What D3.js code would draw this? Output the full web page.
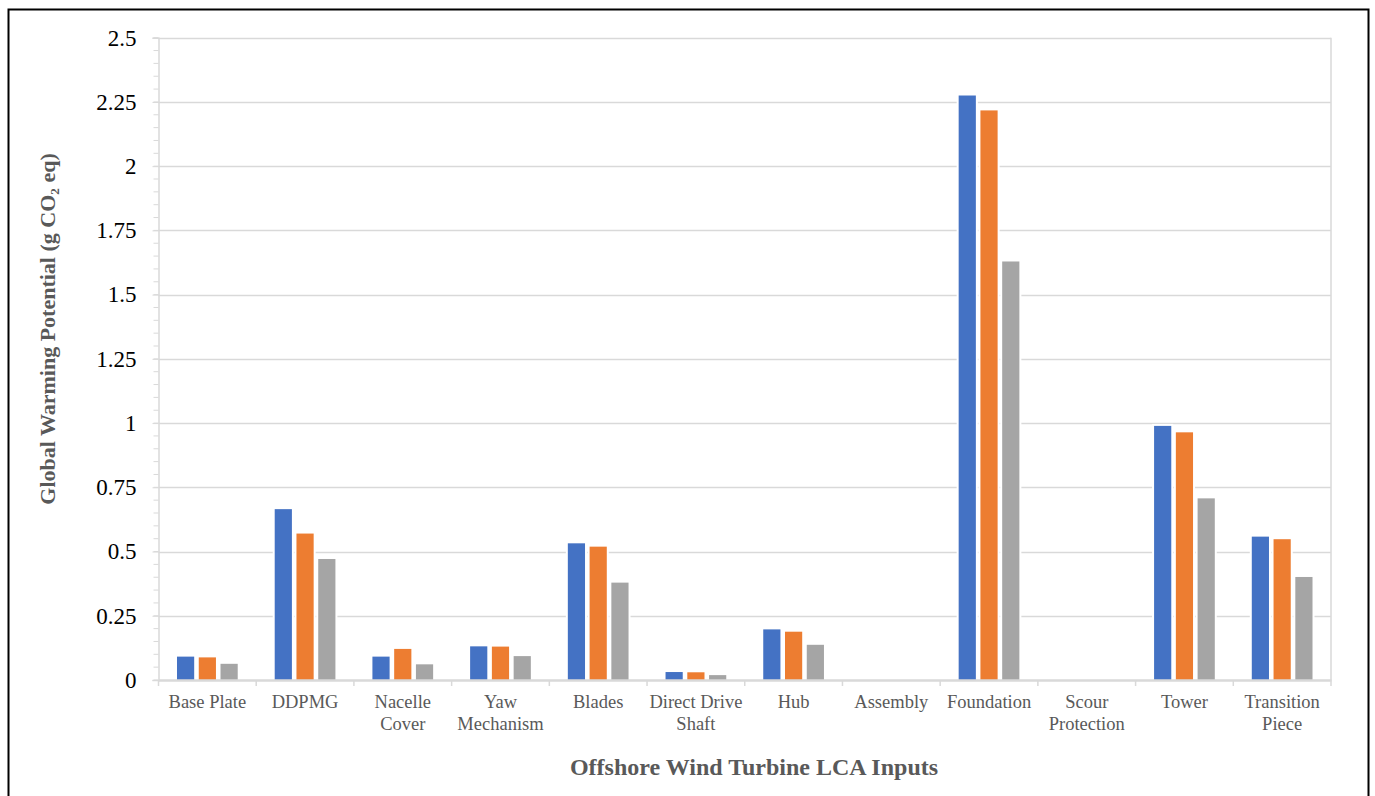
<!DOCTYPE html>
<html>
<head>
<meta charset="utf-8">
<script src="https://cdn.jsdelivr.net/npm/d3@7"></script>
<style>
  html, body { margin: 0; padding: 0; background: #fff; }
  svg { display: block; }
  text { font-family: "Liberation Serif", "Times New Roman", serif; }
</style>
</head>
<body>
<svg id="chart" width="1375" height="796"></svg>
<script>
// Offshore wind turbine LCA inputs — global warming potential per component
const categories = ["Base Plate", "DDPMG", "Nacelle Cover", "Yaw Mechanism", "Blades",
  "Direct Drive Shaft", "Hub", "Assembly", "Foundation", "Scour Protection", "Tower", "Transition Piece"];
const seriesNames = ["Series 1", "Series 2", "Series 3"];
const series1 = [0.091, 0.665, 0.091, 0.131, 0.532, 0.031, 0.197, 0, 2.275, 0, 0.989, 0.558];
const series2 = [0.088, 0.570, 0.121, 0.130, 0.519, 0.030, 0.188, 0, 2.217, 0, 0.964, 0.548];
const series3 = [0.063, 0.471, 0.061, 0.093, 0.379, 0.019, 0.137, 0, 1.629, 0, 0.707, 0.401];
const yTicks = [0, 0.25, 0.5, 0.75, 1, 1.25, 1.5, 1.75, 2, 2.25, 2.5];
const colors = ["#4472C4", "#ED7D31", "#A5A5A5"];

const seriesValues = [series1, series2, series3];
const svg = d3.select("#chart");

// outer chart frame
svg.append("rect")
  .attr("x", 8.5).attr("y", 9.5)
  .attr("width", 1360).attr("height", 820)
  .attr("fill", "none").attr("stroke", "#000").attr("stroke-width", 2);

const plot = { left: 158.5, right: 1331, top: 37.7, bottom: 680 };

const x0 = d3.scaleBand().domain(categories).range([plot.left, plot.right]).padding(0);
const x1 = d3.scaleBand().domain(seriesNames).range([0, x0.bandwidth()])
  .paddingInner(0.21).paddingOuter(0.85);
const y = d3.scaleLinear().domain([0, 2.5]).range([plot.bottom, plot.top]);

const grid = "#d9d9d9";

// horizontal gridlines
svg.append("g").selectAll("line").data(yTicks.filter(d => d > 0)).join("line")
  .attr("x1", plot.left).attr("x2", plot.right)
  .attr("y1", d => Math.round(y(d)) + 0.5).attr("y2", d => Math.round(y(d)) + 0.5)
  .attr("stroke", grid).attr("stroke-width", 1.5);

// right edge of plot area
svg.append("line")
  .attr("x1", plot.right).attr("x2", plot.right)
  .attr("y1", plot.top).attr("y2", plot.bottom)
  .attr("stroke", grid).attr("stroke-width", 1.5);

// y axis: line, major and minor ticks, labels
const yAxis = d3.axisLeft(y).tickValues(yTicks).tickSize(6).tickPadding(16)
  .tickFormat(d => d3.format("")(d));
const gy = svg.append("g").attr("transform", `translate(${plot.left},0)`).call(yAxis);
gy.select(".domain").attr("stroke", grid).attr("stroke-width", 1.5);
gy.selectAll(".tick line").attr("stroke", grid).attr("stroke-width", 1);
gy.selectAll(".tick text")
  .attr("font-size", 23).attr("fill", "#000")
  .attr("font-family", "Liberation Serif, Times New Roman, serif");
const minor = d3.range(0, 2.5001, 0.05);
svg.append("g").selectAll("line").data(minor).join("line")
  .attr("x1", plot.left - 5).attr("x2", plot.left)
  .attr("y1", d => y(d)).attr("y2", d => y(d))
  .attr("stroke", grid).attr("stroke-width", 1);

// bars: white halo first, then fills
const bars = [];
categories.forEach((c, i) => {
  seriesNames.forEach((s, j) => {
    bars.push({ cat: c, s, j, v: seriesValues[j][i] });
  });
});
const shown = bars.filter(d => d.v > 0);
const halo = 2;
svg.append("g").selectAll("rect").data(shown).join("rect")
  .attr("x", d => x0(d.cat) + x1(d.s) - halo)
  .attr("y", d => y(d.v) - halo)
  .attr("width", x1.bandwidth() + 2 * halo)
  .attr("height", d => y(0) - y(d.v) + halo)
  .attr("fill", "#fff");
svg.append("g").selectAll("rect").data(shown).join("rect")
  .attr("x", d => x0(d.cat) + x1(d.s))
  .attr("y", d => y(d.v))
  .attr("width", x1.bandwidth())
  .attr("height", d => y(0) - y(d.v))
  .attr("fill", d => colors[d.j]);

// x axis: baseline, category separators, wrapped labels
const xAxis = d3.axisBottom(x0).tickSize(0).tickPadding(0).tickFormat("");
const gx = svg.append("g").attr("transform", `translate(0,${plot.bottom})`).call(xAxis);
gx.select(".domain").attr("stroke", grid).attr("stroke-width", 2.5);
gx.selectAll(".tick").remove();
const seps = categories.map(c => x0(c)).concat([plot.right]);
gx.append("g").selectAll("line").data(seps).join("line")
  .attr("x1", d => d).attr("x2", d => d)
  .attr("y1", 0).attr("y2", 6)
  .attr("stroke", grid).attr("stroke-width", 1.5);

const labels = svg.append("g");
categories.forEach(c => {
  const t = labels.append("text")
    .attr("x", x0(c) + x0.bandwidth() / 2)
    .attr("y", 708)
    .attr("text-anchor", "middle")
    .attr("font-size", 18.5)
    .attr("fill", "#595959");
  const words = c.split(" ");
  const maxW = x0.bandwidth() - 1;
  let line = [];
  let ts = t.append("tspan").attr("x", x0(c) + x0.bandwidth() / 2).attr("dy", 0);
  words.forEach(w => {
    line.push(w);
    ts.text(line.join(" "));
    if (ts.node().getComputedTextLength() > maxW && line.length > 1) {
      line.pop();
      ts.text(line.join(" "));
      line = [w];
      ts = t.append("tspan").attr("x", x0(c) + x0.bandwidth() / 2).attr("dy", 22).text(w);
    }
  });
});

// axis titles
svg.append("text")
  .attr("x", 754).attr("y", 775)
  .attr("text-anchor", "middle")
  .attr("font-size", 24).attr("font-weight", "bold")
  .attr("fill", "#595959")
  .text("Offshore Wind Turbine LCA Inputs");

svg.append("text")
  .attr("transform", "translate(55,329) rotate(-90)")
  .attr("text-anchor", "middle")
  .attr("font-size", 22).attr("font-weight", "bold")
  .attr("fill", "#595959")
  .text("Global Warming Potential (g CO₂ eq)");
</script>
</body>
</html>
